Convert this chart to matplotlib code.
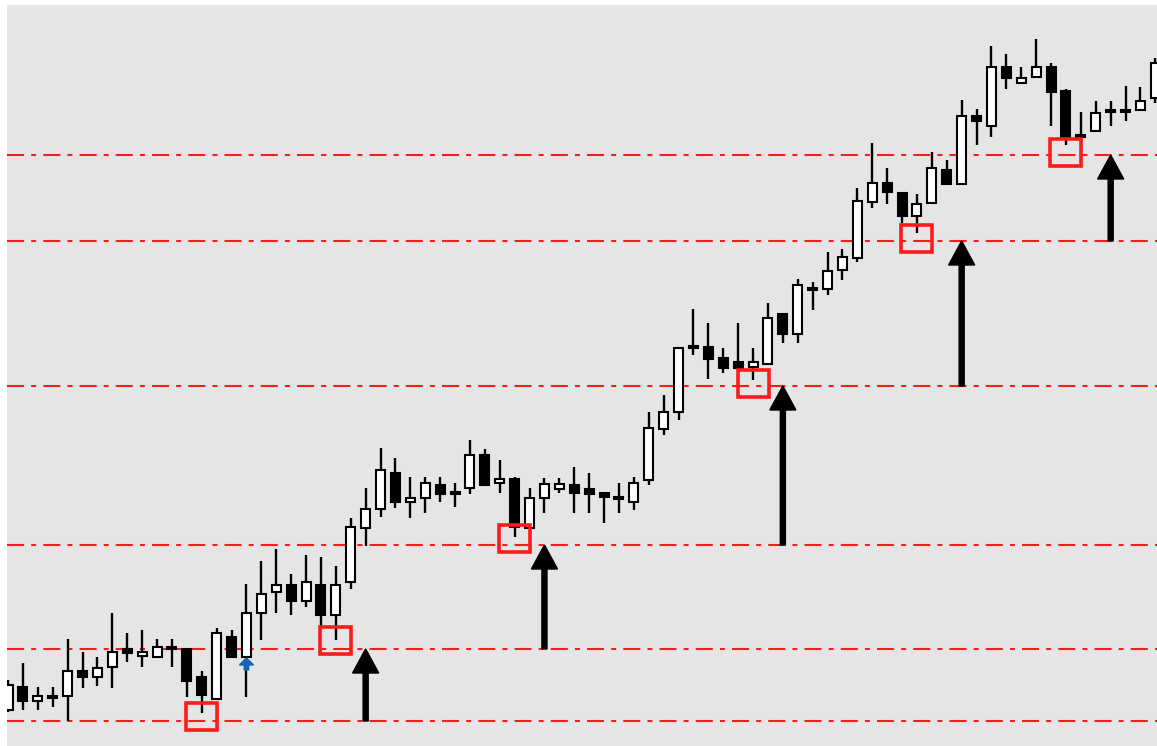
import numpy as np
import matplotlib
matplotlib.use('Agg')
import matplotlib.pyplot as plt

# candle data (oldest first)
opens = [36, 59, 45, 48, 50, 75, 69, 79, 97, 90, 89, 99, 97, 69, 47, 109, 89, 133, 154, 161,
         145, 161, 131, 164, 218, 237, 273, 244, 248, 261, 254, 258, 291, 263, 267, 218, 248, 257, 261, 257,
         253, 249, 244, 266, 317, 334, 400, 399, 388, 384, 379, 382, 432, 412, 456, 457, 476, 488, 544, 563,
         553, 530, 543, 576, 562, 630, 620, 679, 663, 669, 679, 655, 611, 615, 636, 636, 636, 648]
highs = [66, 83, 59, 59, 107, 94, 89, 133, 113, 116, 107, 107, 97, 75, 118, 116, 162, 185, 197, 172,
         191, 189, 180, 228, 258, 298, 288, 269, 269, 269, 263, 306, 297, 286, 269, 258, 268, 268, 279, 273,
         253, 263, 269, 334, 351, 399, 437, 423, 398, 423, 398, 443, 433, 467, 464, 494, 497, 558, 603, 578,
         554, 552, 594, 586, 646, 637, 700, 692, 679, 707, 683, 657, 634, 645, 645, 660, 659, 688]
lows = [34, 36, 36, 39, 25, 58, 60, 58, 84, 79, 88, 79, 49, 33, 46, 88, 49, 106, 133, 131,
        139, 119, 106, 157, 200, 229, 238, 228, 233, 244, 239, 252, 261, 253, 209, 218, 233, 253, 233, 233,
        223, 233, 236, 261, 311, 326, 391, 367, 373, 376, 366, 382, 403, 403, 436, 451, 466, 484, 538, 542,
        523, 513, 543, 561, 562, 601, 609, 657, 663, 669, 620, 601, 609, 615, 620, 625, 636, 643]
closes = [61, 45, 50, 50, 75, 69, 78, 94, 93, 94, 99, 97, 65, 51, 113, 89, 133, 152, 161, 145,
          164, 131, 161, 219, 237, 276, 244, 248, 263, 252, 252, 291, 261, 267, 219, 248, 262, 262, 253, 252,
          249, 247, 263, 318, 334, 398, 398, 387, 378, 378, 384, 428, 412, 461, 458, 475, 489, 545, 563, 554,
          530, 542, 578, 562, 630, 625, 679, 668, 668, 679, 654, 608, 609, 633, 634, 634, 645, 683]

# support levels and the marked pullbacks
levels = [25, 97, 201, 360, 505, 591]
box_idx = [13, 22, 34, 50, 61, 71]
box_y = [30, 106, 208, 363, 508, 594]
arrow_idx = [24, 36, 52, 64, 74]
signal_idx = 16
signal_y = 76

fig = plt.figure(figsize=(11.57, 7.46), dpi=100, facecolor='white')
ax = fig.add_axes([7 / 1157, 0, 1 - 7 / 1157, 741 / 746])
ax.set_facecolor('#e5e5e5')

x = np.arange(len(opens))
o = np.array(opens)
c = np.array(closes)
up = c >= o

# wicks
ax.vlines(x, lows, highs, color='black', lw=1.7, zorder=2)

# bodies
bottom = np.minimum(o, c)
height = np.maximum(np.abs(c - o), 1.5)
ax.bar(x[up], height[up], bottom=bottom[up], width=0.6, facecolor='white',
       edgecolor='black', lw=1.5, zorder=3)
ax.bar(x[~up], height[~up], bottom=bottom[~up], width=0.6, facecolor='black',
       edgecolor='black', lw=1.5, zorder=3)

# dash-dot levels
for lv in levels:
    ax.axhline(lv, color='#f02020', lw=1.5, ls=(0, (8.2, 3.4, 2.4, 3.4)), zorder=1)

# red boxes around the retests
for i, y in zip(box_idx, box_y):
    ax.add_patch(plt.Rectangle((i - 1.04, y - 13.5), 2.08, 27, fill=False,
                               edgecolor='#ff1a1a', lw=2.6, zorder=4))

# black arrows from one level to the next
for k, i in enumerate(arrow_idx):
    ax.arrow(i, levels[k], 0, levels[k + 1] - levels[k], width=0.34, head_width=1.75,
             head_length=24, length_includes_head=True, color='black', zorder=5)

# small blue signal arrow
ax.arrow(signal_idx, signal_y, 0, 12, width=0.3, head_width=0.95, head_length=7,
         length_includes_head=True, color='#1a64b4', zorder=5)

ax.set_xlim(-0.07, 77.11)
ax.set_ylim(0, 741)
ax.set_xticks([])
ax.set_yticks([])
for s in ax.spines.values():
    s.set_visible(False)

plt.savefig('out.png', dpi=100, facecolor='white')
plt.close()
